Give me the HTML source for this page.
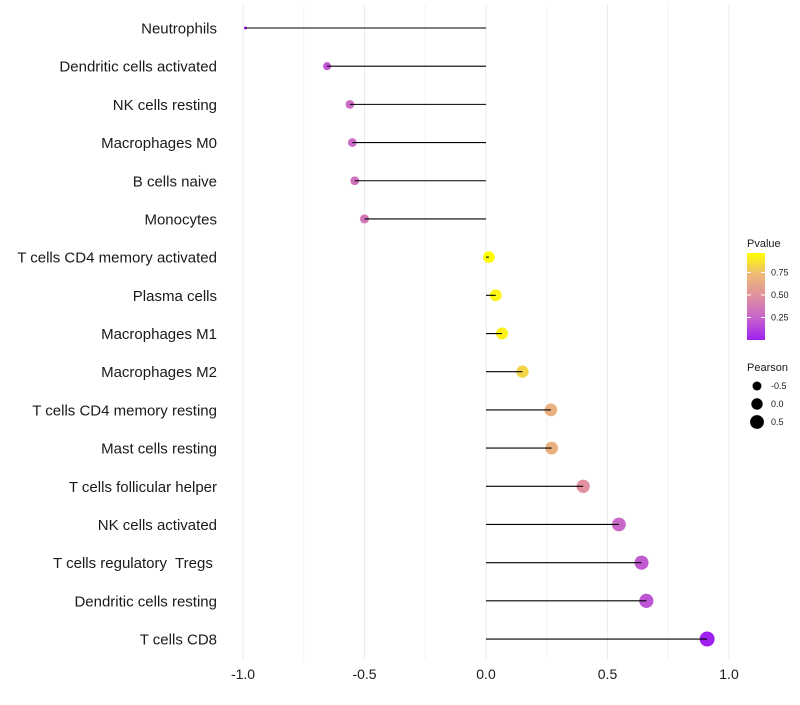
<!DOCTYPE html>
<html><head><meta charset="utf-8">
<style>
body{margin:0;background:#fff;font-family:"Liberation Sans",sans-serif;}
svg text{font-family:"Liberation Sans",sans-serif;white-space:pre;}
</style></head>
<body>
<svg id="chart" width="800" height="700" xmlns="http://www.w3.org/2000/svg">
<defs>
<linearGradient id="pgrad" x1="0" y1="1" x2="0" y2="0">
<stop offset="0" stop-color="#A020F0"/>
<stop offset="0.25" stop-color="#C662CD"/>
<stop offset="0.5" stop-color="#E090A0"/>
<stop offset="0.75" stop-color="#EEB878"/>
<stop offset="1" stop-color="#FFFF00"/>
</linearGradient>
</defs>
<g id="grid"></g>
<g id="marks"></g>
<g id="labels"></g>
<g id="legend"></g>
</svg>
<script>
const categories = ["Neutrophils","Dendritic cells activated","NK cells resting","Macrophages M0","B cells naive","Monocytes","T cells CD4 memory activated","Plasma cells","Macrophages M1","Macrophages M2","T cells CD4 memory resting","Mast cells resting","T cells follicular helper","NK cells activated","T cells regulatory  Tregs ","Dendritic cells resting","T cells CD8"];
const pearson = [-0.99,-0.654,-0.56,-0.55,-0.54,-0.50,0.012,0.04,0.066,0.15,0.267,0.27,0.40,0.547,0.64,0.66,0.91];
const pvalue = [0.0,0.2,0.3,0.3,0.33,0.36,1.0,0.96,0.95,0.85,0.7,0.7,0.5,0.28,0.22,0.2,0.0];
const xTicks = [-1.0,-0.5,0.0,0.5,1.0];
const xTickLabels = ["-1.0","-0.5","0.0","0.5","1.0"];
const pTicks = [0.25,0.5,0.75];
const pTickLabels = ["0.25","0.50","0.75"];
const sizeLegend = [-0.5,0.0,0.5];
const sizeLegendLabels = ["-0.5","0.0","0.5"];

const NS="http://www.w3.org/2000/svg";
function xS(v){return 486+v*243;}
function yS(i){return 28+i*38.19;}
const pmin=Math.min(...pearson), pmax=Math.max(...pearson);
function rS(v){return 1.5+6*Math.sqrt(Math.max(0,(v-pmin)/(pmax-pmin)));}
const stops=[[0,[160,32,240]],[0.25,[198,98,205]],[0.5,[224,144,160]],[0.75,[238,184,120]],[1,[255,255,0]]];
function cS(p){p=Math.max(0,Math.min(1,p));for(let k=0;k<stops.length-1;k++){const a=stops[k],b=stops[k+1];if(p<=b[0]){const t=(p-a[0])/(b[0]-a[0]);return "rgb("+a[1].map((c,j)=>Math.round(c+(b[1][j]-c)*t)).join(",")+")";}}return "rgb(255,255,0)";}
function mk(tag,attrs,parent){const e=document.createElementNS(NS,tag);for(const k in attrs)e.setAttribute(k,attrs[k]);parent.appendChild(e);return e;}

const grid=document.getElementById('grid');
for(let v=-1;v<=1.0001;v+=0.25){
  const major=Math.abs(v*2-Math.round(v*2))<0.01;
  const l=mk('line',{x1:xS(v),x2:xS(v),y1:5,y2:660,stroke:major?'#ebebeb':'#f4f4f4','stroke-width':1},grid);
  
  
}
const marks=document.getElementById('marks');
const labels=document.getElementById('labels');
categories.forEach((c,i)=>{
  const y=yS(i);
  const pt=mk('circle',{cx:xS(pearson[i]),cy:y,r:rS(pearson[i]),fill:cS(pvalue[i])},marks);
  
  
  const ln=mk('line',{x1:xS(0),x2:xS(pearson[i]),y1:y,y2:y,stroke:'#000','stroke-width':1.1},marks);
  
  
  const t=mk('text',{x:217,y:y+5.5,'text-anchor':'end','font-size':15,fill:'#1a1a1a'},labels);
  t.textContent=c;
  
  
});
xTicks.forEach((v,i)=>{
  const t=mk('text',{x:xS(v),y:679,'text-anchor':'middle','font-size':14,fill:'#1a1a1a'},labels);
  t.textContent=xTickLabels[i];
  
  
});
const lg=document.getElementById('legend');
const lt=mk('text',{x:747,y:247,'font-size':11,fill:'#1a1a1a'},lg);
lt.textContent='Pvalue';


const bar=mk('rect',{x:747,y:253,width:18,height:87,fill:'url(#pgrad)'},lg);


function pY(p){return 340-p*90;}
pTicks.forEach((p,i)=>{
  mk('line',{x1:747,x2:751,y1:pY(p),y2:pY(p),stroke:'#fff','stroke-width':1},lg);
  mk('line',{x1:761,x2:765,y1:pY(p),y2:pY(p),stroke:'#fff','stroke-width':1},lg);
  const t=mk('text',{x:771,y:pY(p)+3,'font-size':9,fill:'#1a1a1a'},lg);
  t.textContent=pTickLabels[i];
  
  
});
const st=mk('text',{x:747,y:371,'font-size':11,fill:'#1a1a1a'},lg);
st.textContent='Pearson';


sizeLegend.forEach((v,i)=>{
  const y=386+i*18;
  const c=mk('circle',{cx:757,cy:y,r:4.5+i*1.2,fill:'#000'},lg);
  
  
  const t=mk('text',{x:771,y:y+3,'font-size':9,fill:'#1a1a1a'},lg);
  t.textContent=sizeLegendLabels[i];
  
  
});
</script>
</body></html>
